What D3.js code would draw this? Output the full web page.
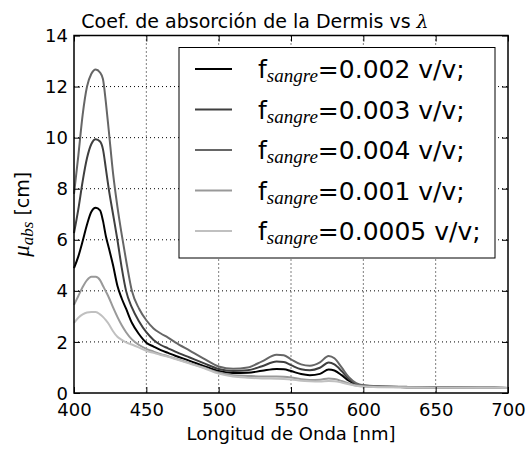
<!DOCTYPE html>
<meta charset="utf-8">
<script src="https://d3js.org/d3.v7.min.js"></script>
<style>
  body { margin: 0; background: #fff; }
  text { font-family: "DejaVu Sans", sans-serif; fill: #000; }
</style>
<div id="chart"></div>
<script>

// wavelengths (nm)
var wavelengths = [400,403,406,409,412,415,418,420,422,424,427,430,433,436,440,445,450,455,460,465,470,480,490,500,510,520,530,540,545,550,557,563,570,576,580,585,590,595,600,610,630,650,680,700];

// absorption coefficient per blood fraction
var mu_0002 = [4.89,5.35,5.95,6.6,7.1,7.25,7.15,6.75,6.15,5.7,5.0,4.2,3.7,3.3,2.75,2.3,1.97,1.82,1.68,1.57,1.46,1.26,1.05,0.86,0.78,0.79,0.87,0.94,0.93,0.86,0.74,0.70,0.75,0.92,0.88,0.70,0.48,0.34,0.28,0.25,0.23,0.22,0.21,0.20];
var mu_0003 = [6.26,7.2,8.3,9.2,9.75,9.94,9.85,9.55,8.8,8.0,7.0,6.0,4.9,4.0,3.35,2.8,2.38,2.08,1.88,1.75,1.62,1.39,1.16,0.94,0.86,0.89,1.05,1.23,1.21,1.09,0.93,0.89,0.99,1.19,1.12,0.86,0.55,0.36,0.29,0.25,0.23,0.22,0.21,0.20];
var mu_0004 = [7.8,9.3,10.9,12.0,12.5,12.67,12.55,12.3,11.4,10.3,8.6,7.3,6.2,5.2,4.0,3.3,2.85,2.53,2.33,2.17,1.98,1.66,1.34,1.04,0.95,1.0,1.24,1.5,1.48,1.32,1.12,1.07,1.2,1.45,1.36,1.0,0.62,0.39,0.30,0.26,0.24,0.22,0.21,0.20];
var mu_0001 = [3.45,3.8,4.15,4.42,4.55,4.55,4.42,4.2,3.98,3.75,3.35,2.98,2.65,2.38,2.1,1.88,1.73,1.62,1.52,1.44,1.35,1.17,0.99,0.80,0.70,0.67,0.65,0.65,0.64,0.61,0.54,0.51,0.52,0.57,0.55,0.47,0.37,0.29,0.26,0.24,0.23,0.22,0.21,0.20];
var mu_00005 = [2.75,2.95,3.08,3.15,3.17,3.17,3.08,2.98,2.85,2.7,2.42,2.2,2.08,1.98,1.9,1.78,1.65,1.57,1.49,1.42,1.33,1.15,0.97,0.76,0.65,0.60,0.57,0.56,0.55,0.53,0.48,0.46,0.45,0.47,0.46,0.41,0.34,0.28,0.25,0.23,0.22,0.21,0.21,0.20];

var fractions = ["0.002", "0.003", "0.004", "0.001", "0.0005"];
var seriesValues = [mu_0002, mu_0003, mu_0004, mu_0001, mu_00005];

var xTicks = [400, 450, 500, 550, 600, 650, 700];
var yTicks = [0, 2, 4, 6, 8, 10, 12, 14];

// line colours, darkest first (same order as fractions)
var colors = ["#000000", "#3f3f3f", "#666666", "#999999", "#c0c0c0"];

var margin = {top: 35.5, right: 21, bottom: 56, left: 74},
    width = 529 - margin.left - margin.right,
    height = 449 - margin.top - margin.bottom;

var root = d3.select("#chart")
  .append("svg")
    .attr("width", 529)
    .attr("height", 449);

var svg = root.append("g")
    .attr("transform", "translate(" + margin.left + "," + margin.top + ")");

var x = d3.scaleLinear().domain([400, 700]).range([0, width]);
var y = d3.scaleLinear().domain([0, 14]).range([height, 0]);

// dotted grid
svg.append("g")
  .selectAll("line")
  .data(xTicks.slice(1, -1))
  .enter().append("line")
    .attr("x1", function(d) { return x(d); })
    .attr("x2", function(d) { return x(d); })
    .attr("y1", 0).attr("y2", height)
    .attr("stroke", "#000").attr("stroke-width", 1)
    .attr("stroke-dasharray", "1,3");
svg.append("g")
  .selectAll("line")
  .data(yTicks.slice(1, -1))
  .enter().append("line")
    .attr("y1", function(d) { return y(d); })
    .attr("y2", function(d) { return y(d); })
    .attr("x1", 0).attr("x2", width)
    .attr("stroke", "#000").attr("stroke-width", 1)
    .attr("stroke-dasharray", "1,3");

// curves
var line = d3.line()
  .x(function(d) { return x(d[0]); })
  .y(function(d) { return y(d[1]); })
  .curve(d3.curveMonotoneX);

seriesValues.forEach(function(vals, i) {
  svg.append("path")
    .datum(wavelengths.map(function(w, j) { return [w, vals[j]]; }))
    .attr("fill", "none")
    .attr("stroke", colors[i])
    .attr("stroke-width", 2)
    .attr("stroke-linejoin", "round")
    .attr("d", line);
});

// axes, ticks pointing inward on all four sides
var xAxis = svg.append("g")
  .attr("transform", "translate(0," + height + ")")
  .call(d3.axisBottom(x).tickValues(xTicks).tickSize(-6).tickPadding(10));
var yAxis = svg.append("g")
  .call(d3.axisLeft(y).tickValues(yTicks).tickSize(-6).tickPadding(6));
var topAxis = svg.append("g")
  .call(d3.axisTop(x).tickValues(xTicks).tickSize(-6).tickFormat(""));
var rightAxis = svg.append("g")
  .attr("transform", "translate(" + width + ",0)")
  .call(d3.axisRight(y).tickValues(yTicks).tickSize(-6).tickFormat(""));

[xAxis, yAxis, topAxis, rightAxis].forEach(function(a) {
  a.select(".domain").remove();
  a.selectAll(".tick line").attr("stroke", "#000").attr("stroke-width", 1);
  a.selectAll("text").style("font-family", "DejaVu Sans").style("font-size", "18px");
});
yAxis.selectAll("text").attr("dy", "0.34em");

// frame
svg.append("rect")
  .attr("x", 0).attr("y", 0)
  .attr("width", width).attr("height", height)
  .attr("fill", "none")
  .attr("stroke", "#000")
  .attr("stroke-width", 1.5);

// legend
var lg = svg.append("g").attr("transform", "translate(" + (179 - margin.left) + "," + (47.5 - margin.top) + ")");
lg.append("rect")
  .attr("width", 316).attr("height", 210.5)
  .attr("fill", "#fff").attr("stroke", "#000").attr("stroke-width", 1);

fractions.forEach(function(f, i) {
  var yy = 21.5 + i * 40.5;
  lg.append("line")
    .attr("x1", 16).attr("x2", 53)
    .attr("y1", yy).attr("y2", yy)
    .attr("stroke", colors[i]).attr("stroke-width", 2);
  var t = lg.append("text")
    .attr("x", 79).attr("y", yy + 9)
    .style("font-size", "25px");
  t.append("tspan").text("f");
  t.append("tspan")
    .attr("dy", 4)
    .style("font-family", "Liberation Serif")
    .style("font-style", "italic")
    .style("font-size", "19px")
    .text("sangre");
  t.append("tspan")
    .attr("dy", -4)
    .text("=" + f + " v/v;");
});

// title
var title = root.append("text")
  .attr("x", 255).attr("y", 28)
  .attr("text-anchor", "middle")
  .style("font-size", "19px");
title.append("tspan").text("Coef. de absorción de la Dermis vs ");
title.append("tspan")
  .style("font-family", "DejaVu Serif")
  .style("font-style", "italic")
  .text("λ");

// axis labels
root.append("text")
  .attr("x", margin.left + width / 2).attr("y", 440)
  .attr("text-anchor", "middle")
  .style("font-size", "18px")
  .text("Longitud de Onda [nm]");

var yl = root.append("text")
  .attr("transform", "translate(29," + (margin.top + height / 2) + ") rotate(-90)")
  .attr("text-anchor", "middle")
  .style("font-size", "19px");
yl.append("tspan")
  .style("font-family", "Liberation Serif")
  .style("font-style", "italic")
  .style("font-size", "23px")
  .text("μ");
yl.append("tspan")
  .attr("dy", 4)
  .style("font-family", "Liberation Serif")
  .style("font-style", "italic")
  .style("font-size", "17px")
  .text("abs");
yl.append("tspan")
  .attr("dy", -4)
  .text(" [cm]");

</script>
